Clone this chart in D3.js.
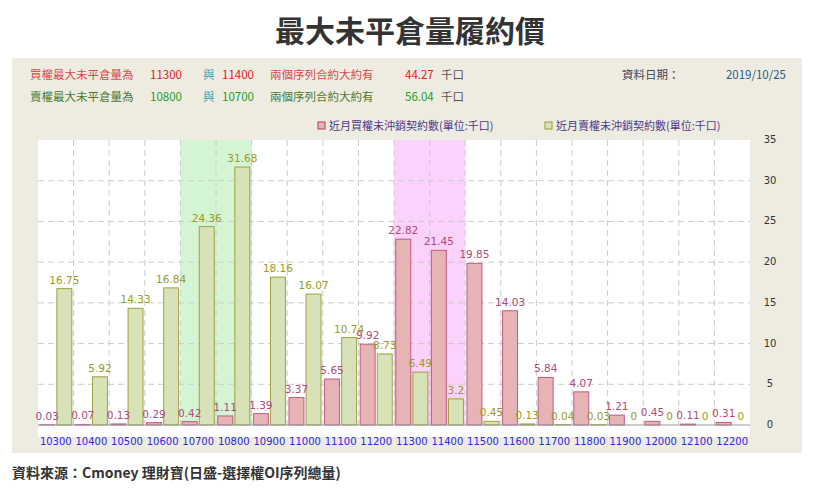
<!DOCTYPE html>
<html><head><meta charset="utf-8">
<script src="https://cdn.jsdelivr.net/npm/d3@7"></script>
<style>
body{margin:0;background:#fff;font-family:"Noto Sans CJK TC","Noto Sans",sans-serif;}
</style></head>
<body><svg id="c" width="820" height="495"></svg>
<script>
const strikes = [10300,10400,10500,10600,10700,10800,10900,11000,11100,11200,11300,11400,11500,11600,11700,11800,11900,12000,12100,12200];
const callOI = [0.03,0.07,0.13,0.29,0.42,1.11,1.39,3.37,5.65,9.92,22.82,21.45,19.85,14.03,5.84,4.07,1.21,0.45,0.11,0.31];
const putOI = [16.75,5.92,14.33,16.84,24.36,31.68,18.16,16.07,10.74,8.73,6.49,3.2,0.45,0.13,0.04,0.03,0,0,0,0];
const yTicks = [0,5,10,15,20,25,30,35];
const putBand = [10700,10800];
const callBand = [11300,11400];

const svg = d3.select('#c');
const font = '"Noto Sans CJK TC",sans-serif';

svg.append('text').attr('x',410).attr('y',42).attr('text-anchor','middle')
  .attr('font-size',30).attr('font-weight','bold').attr('fill','#333').attr('font-family',font).text('最大未平倉量履約價');

svg.append('rect').attr('x',12).attr('y',58).attr('width',790).attr('height',395).attr('fill','#eeebe0');

// header lines
const hdr = (y, color, num, a, b, v, label) => {
  const g = svg.append('g').attr('font-size',11.5).attr('font-family',font);
  g.append('text').attr('x',30).attr('y',y).attr('fill',color).text(label);
  g.append('text').attr('x',150).attr('y',y).attr('fill',num).text(a);
  g.append('text').attr('x',203).attr('y',y).attr('fill','#3aa0b0').text('與');
  g.append('text').attr('x',222).attr('y',y).attr('fill',num).text(b);
  g.append('text').attr('x',270).attr('y',y).attr('fill',color).text('兩個序列合約大約有');
  g.append('text').attr('x',405).attr('y',y).attr('fill',num).text(v);
  g.append('text').attr('x',441).attr('y',y).attr('fill','#555').text('千口');
};
hdr(79,'#d64a4a','#e02020','11300','11400','44.27','買權最大未平倉量為');
hdr(101,'#4a7a30','#22a022','10800','10700','56.04','賣權最大未平倉量為');
svg.append('text').attr('x',622).attr('y',79).attr('font-size',11.5).attr('fill','#445').attr('font-family',font).text('資料日期：');
svg.append('text').attr('x',786).attr('y',79).attr('text-anchor','end').attr('font-size',11.5).attr('fill','#2a5a8a').attr('font-family',font).text('2019/10/25');

// legend
const leg = [[318,'#e6b4b4','#b0406a','近月買權未沖銷契約數(單位:千口)'],[545,'#d7e2b8','#9a9a30','近月賣權未沖銷契約數(單位:千口)']];
leg.forEach(([x,f,s,t])=>{
  svg.append('rect').attr('x',x).attr('y',122).attr('width',7).attr('height',7).attr('fill',f).attr('stroke',s);
  svg.append('text').attr('x',x+11).attr('y',130).attr('font-size',11).attr('fill','#4a3a8a').attr('font-family',font).text(t);
});

const m = {l:38, r:750, t:140, b:425};
svg.append('rect').attr('x',m.l).attr('y',m.t).attr('width',m.r-m.l).attr('height',m.b+12-m.t).attr('fill','#fff');
const x = d3.scaleBand().domain(strikes).range([m.l,m.r]);
const y = d3.scaleLinear().domain([0,35]).range([m.b,m.t]);

// bands
[[putBand,'#d4f5d4'],[callBand,'#fbd2fb']].forEach(([b,c])=>{
  svg.append('rect').attr('x',x(b[0])).attr('y',m.t).attr('width',x.bandwidth()*2).attr('height',m.b-m.t).attr('fill',c);
});

// grid
svg.append('g').selectAll('line').data(yTicks.slice(1,-1)).join('line')
  .attr('x1',m.l).attr('x2',m.r).attr('y1',d=>y(d)).attr('y2',d=>y(d))
  .attr('stroke','#ccc').attr('stroke-dasharray','6,4');
svg.append('g').selectAll('line').data(strikes.slice(1)).join('line')
  .attr('x1',d=>x(d)).attr('x2',d=>x(d)).attr('y1',m.t).attr('y2',m.b)
  .attr('stroke','#ccc').attr('stroke-dasharray','6,4');

const bw = x.bandwidth()*0.42;
const gap = x.bandwidth()*0.06;
const bars = svg.append('g');
bars.selectAll('.c').data(callOI).join('rect')
  .attr('x',(d,i)=>x(strikes[i])+x.bandwidth()/2-bw-gap/2).attr('width',bw)
  .attr('y',d=>y(d)).attr('height',d=>y(0)-y(d))
  .attr('fill','#e6b4b4').attr('stroke','#c05a82').attr('stroke-width',1);
bars.selectAll('.p').data(putOI).join('rect')
  .attr('x',(d,i)=>x(strikes[i])+x.bandwidth()/2+gap/2).attr('width',bw)
  .attr('y',d=>y(d)).attr('height',d=>y(0)-y(d))
  .attr('fill','#d7e2b8').attr('stroke','#a0a040').attr('stroke-width',1);

const lab = svg.append('g').attr('font-size',10.5).attr('font-family','"DejaVu Sans",sans-serif').attr('text-anchor','middle');
lab.selectAll('.cl').data(callOI).join('text')
  .attr('x',(d,i)=>x(strikes[i])+x.bandwidth()/2-bw/2-gap/2).attr('y',d=>y(d)-5)
  .attr('fill','#b04a7a').text(d=>d);
lab.selectAll('.pl').data(putOI).join('text')
  .attr('x',(d,i)=>x(strikes[i])+x.bandwidth()/2+bw/2+gap/2).attr('y',d=>y(d)-5)
  .attr('fill','#9a9a20').text(d=>d);

svg.append('line').attr('x1',m.l).attr('x2',m.r).attr('y1',m.b).attr('y2',m.b).attr('stroke','#999');

// x axis labels
svg.append('g').selectAll('text').data(strikes).join('text')
  .attr('x',d=>x(d)+x.bandwidth()/2).attr('y',445).attr('text-anchor','middle')
  .attr('font-size',10).attr('fill','#2a2ae0').attr('font-family','"DejaVu Sans",sans-serif').text(d=>d);

// right y axis
svg.append('g').selectAll('text').data(yTicks).join('text')
  .attr('x',770).attr('y',d=>y(d)+3).attr('text-anchor','middle')
  .attr('font-size',10).attr('fill','#333').attr('font-family','"DejaVu Sans",sans-serif').text(d=>d);

svg.append('text').attr('x',12).attr('y',478).attr('font-size',14).attr('font-weight','bold')
  .attr('fill','#333').attr('font-family',font).text('資料來源：Cmoney 理財寶(日盛-選擇權OI序列總量)');
</script></body></html>
